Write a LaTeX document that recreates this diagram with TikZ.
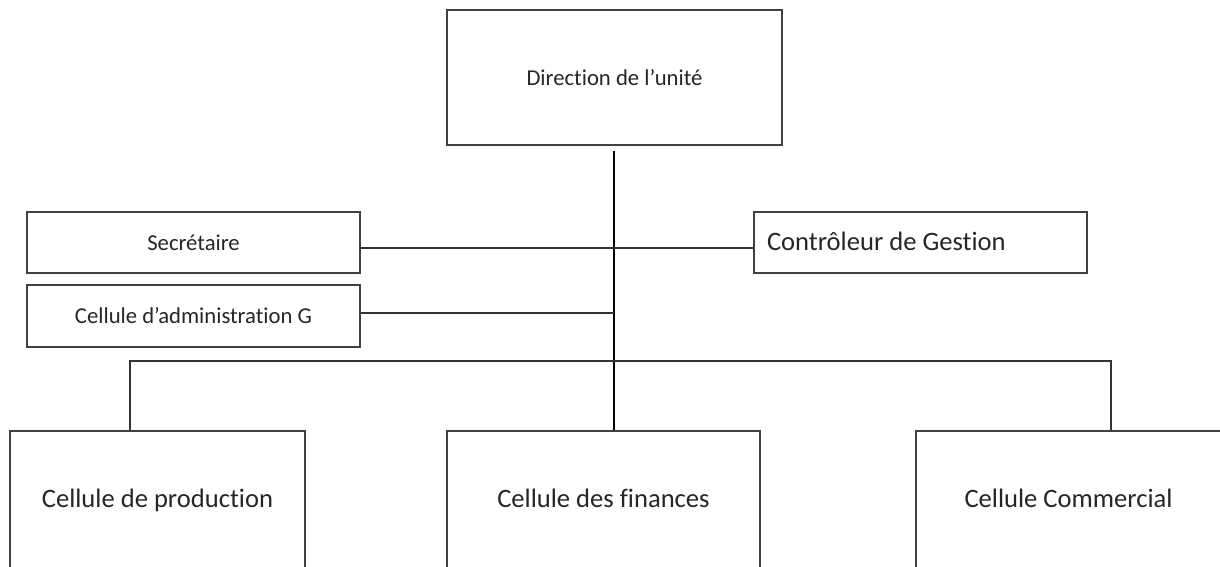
\documentclass[tikz,border=0pt]{standalone}
\usepackage{fontspec}
\setmainfont[Ligatures=NoCommon]{Carlito}
\usetikzlibrary{calc}
\tikzset{
  unit/.style={draw=black!75, line width=1.8pt, text=black!85, inner sep=0pt},
  smalltxt/.style={font=\fontsize{22.7}{27}\selectfont},
  bigtxt/.style={font=\fontsize{26.6}{32}\selectfont},
  cellbox/.style={unit, bigtxt, anchor=north, text height=76.5pt, text depth=93.5pt},
  link/.style={draw=black!80, line width=1.8pt}
}
\begin{document}
\begin{tikzpicture}[x=1pt,y=-1pt]
  \useasboundingbox (0,0) rectangle (1220,566);
  \clip (0,0) rectangle (1220,566);
  % head of the unit
  \node[unit, smalltxt, minimum width=335pt, minimum height=135pt] (dir) at (614.5,77.5) {Direction de l’unité};
  % staff positions
  \node[unit, smalltxt, minimum width=333pt, minimum height=61pt] (sec) at (193.5,242.5) {Secrétaire};
  \node[unit, smalltxt, minimum width=333pt, minimum height=62pt] (adm) at (193.5,316) {Cellule d’administration G};
  \node[unit, bigtxt, minimum width=333pt, minimum height=61pt] (ctrl) at (920.5,242.5) {\raisebox{1.5pt}{\makebox[307pt][l]{Contrôleur de Gestion}}};
  % operational cells (their lower edges run off the page)
  \node[cellbox, minimum width=295pt] (prod) at (157.5,430) {Cellule de production};
  \node[cellbox, minimum width=313pt] (fin) at (603.5,430) {Cellule des finances};
  \node[cellbox, minimum width=305pt] (com) at (1068.5,430) {Cellule Commercial};
  % connectors
  \coordinate (spine) at ([xshift=-0.5pt,yshift=-5pt]dir.south);
  \draw[link, draw=black] (spine) -- (spine |- fin.north);
  \coordinate (secout) at ([yshift=-5.5pt]sec.east);
  \draw[link] (secout) -- (secout -| ctrl.west);
  \coordinate (admout) at ([yshift=3.3pt]adm.east);
  \draw[link] (admout) -- (admout -| spine);
  \coordinate (bus) at ([yshift=69pt]fin.north);
  \coordinate (dropP) at ([xshift=-27.8pt]prod.north);
  \coordinate (dropC) at ([xshift=42.2pt]com.north);
  \draw[link] (dropP) -- (dropP |- bus) -- (dropC |- bus) -- (dropC);
\end{tikzpicture}
\end{document}
